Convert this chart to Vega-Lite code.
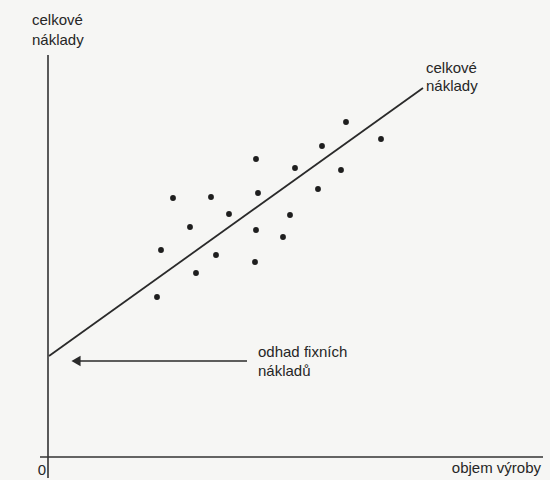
{
  "$schema": "https://vega.github.io/schema/vega-lite/v6.json",
  "width": 550,
  "height": 480,
  "autosize": "none",
  "padding": 0,
  "background": "#f6f6f4",
  "view": {"stroke": null},
  "config": {"text": {"font": "Liberation Sans", "fontSize": 15, "color": "#262626"}},
  "datasets": {
    "points": [
      {"volume": 298, "cost": 335}, {"volume": 333, "cost": 318}, {"volume": 274, "cost": 311},
      {"volume": 208, "cost": 298}, {"volume": 247, "cost": 289}, {"volume": 293, "cost": 287},
      {"volume": 125, "cost": 259}, {"volume": 163, "cost": 260}, {"volume": 210, "cost": 264},
      {"volume": 270, "cost": 268}, {"volume": 181, "cost": 243}, {"volume": 242, "cost": 242},
      {"volume": 142, "cost": 230}, {"volume": 208, "cost": 227}, {"volume": 235, "cost": 220},
      {"volume": 113, "cost": 207}, {"volume": 168, "cost": 202}, {"volume": 207, "cost": 195},
      {"volume": 148, "cost": 184}, {"volume": 109, "cost": 160}
    ],
    "axes": [
      {"name": "x", "x": -8, "x2": 495, "y": 0, "y2": 0},
      {"name": "y", "x": 0, "x2": 0, "y": -21, "y2": 402}
    ],
    "fit": [{"x": 1, "y": 101, "x2": 375, "y2": 369}],
    "arrow": [{"x": 28, "x2": 199, "y": 96}],
    "labelsLeft": [
      {"text": "celkové", "x": -16, "y": 437},
      {"text": "náklady", "x": -16, "y": 417},
      {"text": "celkové", "x": 378, "y": 389},
      {"text": "náklady", "x": 378, "y": 371},
      {"text": "odhad fixních", "x": 210, "y": 105},
      {"text": "nákladů", "x": 210, "y": 86}
    ],
    "labelsCenter": [
      {"text": "0", "x": -6, "y": -13}
    ],
    "labelsRight": [
      {"text": "objem výroby", "x": 493, "y": -11}
    ]
  },
  "encoding": {},
  "layer": [
    {
      "data": {"name": "axes"},
      "mark": {"type": "rule", "color": "#333333", "strokeWidth": 1.6},
      "encoding": {
        "x": {"field": "x", "type": "quantitative", "scale": {"domain": [-48, 502], "nice": false, "zero": false}, "axis": null},
        "x2": {"field": "x2"},
        "y": {"field": "y", "type": "quantitative", "scale": {"domain": [-23, 457], "nice": false, "zero": false}, "axis": null},
        "y2": {"field": "y2"}
      }
    },
    {
      "data": {"name": "fit"},
      "mark": {"type": "rule", "color": "#2a2a2a", "strokeWidth": 1.8},
      "encoding": {
        "x": {"field": "x", "type": "quantitative"},
        "x2": {"field": "x2"},
        "y": {"field": "y", "type": "quantitative"},
        "y2": {"field": "y2"}
      }
    },
    {
      "data": {"name": "arrow"},
      "mark": {"type": "rule", "color": "#2a2a2a", "strokeWidth": 1.5},
      "encoding": {
        "x": {"field": "x", "type": "quantitative"},
        "x2": {"field": "x2"},
        "y": {"field": "y", "type": "quantitative"}
      }
    },
    {
      "data": {"name": "arrow"},
      "mark": {"type": "point", "shape": "triangle-left", "filled": true, "color": "#2a2a2a", "size": 110, "opacity": 1},
      "encoding": {
        "x": {"field": "x", "type": "quantitative"},
        "y": {"field": "y", "type": "quantitative"}
      }
    },
    {
      "data": {"name": "points"},
      "mark": {"type": "circle", "color": "#1e1e1e", "size": 34, "opacity": 1},
      "encoding": {
        "x": {"field": "volume", "type": "quantitative"},
        "y": {"field": "cost", "type": "quantitative"}
      }
    },
    {
      "data": {"name": "labelsLeft"},
      "mark": {"type": "text", "baseline": "middle", "align": "left"},
      "encoding": {
        "x": {"field": "x", "type": "quantitative"},
        "y": {"field": "y", "type": "quantitative"},
        "text": {"field": "text"}
      }
    },
    {
      "data": {"name": "labelsCenter"},
      "mark": {"type": "text", "baseline": "middle", "align": "center"},
      "encoding": {
        "x": {"field": "x", "type": "quantitative"},
        "y": {"field": "y", "type": "quantitative"},
        "text": {"field": "text"}
      }
    },
    {
      "data": {"name": "labelsRight"},
      "mark": {"type": "text", "baseline": "middle", "align": "right"},
      "encoding": {
        "x": {"field": "x", "type": "quantitative"},
        "y": {"field": "y", "type": "quantitative"},
        "text": {"field": "text"}
      }
    }
  ]
}
